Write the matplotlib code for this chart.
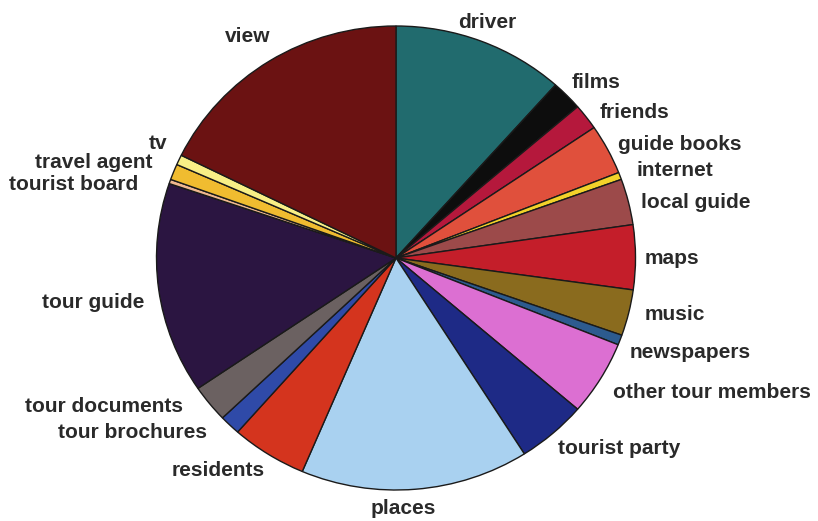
import matplotlib.pyplot as plt

# Share of mentions per information source (percent), clockwise from 12 o'clock
sources = [
    "driver", "films", "friends", "guide books", "internet", "local guide",
    "maps", "music", "newspapers", "other tour members", "tourist party",
    "places", "residents", "tour brochures", "tour documents", "tour guide",
    "tourist board", "travel agent", "tv", "view",
]
shares = [
    11.6, 2.1, 1.8, 3.5, 0.5, 3.2,
    4.5, 3.2, 0.7, 5.2, 4.7,
    15.4, 5.1, 1.4, 2.6, 14.7,
    0.3, 1.1, 0.7, 17.7,
]

COLORS = [
    "#216b6e", "#0d0d0d", "#b5183c", "#e0503c", "#f2d22a", "#9c4a4a",
    "#c41e2a", "#8a6b1e", "#2d5b8f", "#dc6fd2", "#1e2a86",
    "#a9d1f0", "#d4341e", "#2f4aa8", "#6b6161", "#2b1541",
    "#f0b890", "#f0bc30", "#f8ef86", "#6b1212",
]

# label centres in pixels (x from left, y from top)
LABEL_XY = [
    (487, 23), (596, 83), (634, 112), (680, 145), (675, 171), (696, 203),
    (672, 259), (675, 315), (690, 352), (712, 392), (619, 448),
    (403, 508), (218, 470), (133, 433), (104, 407), (93, 303),
    (74, 185), (94, 163), (158, 143), (248, 37),
]

W, H = 818, 521
CX, CY = 396, 258      # pie centre, pixels
RX, RY = 239.5, 232.0  # slightly squashed scan

fig = plt.figure(figsize=(W / 100, H / 100), dpi=100)
ax = fig.add_axes([0, 0, 1, 1])
ax.pie(
    shares,
    colors=COLORS,
    startangle=90,
    counterclock=False,
    radius=1.0,
    wedgeprops={"edgecolor": "#1a1a1a", "linewidth": 1.0},
)
ax.set_aspect("auto")
ax.set_xlim(-CX / RX, (W - CX) / RX)
ax.set_ylim(-(H - CY) / RY, CY / RY)
ax.axis("off")

for name, (px, py) in zip(sources, LABEL_XY):
    fig.text(
        px / W, 1 - py / H, name,
        ha="center", va="center",
        fontsize=15, fontweight="bold",
        family="Liberation Sans", color="#2a2a2a",
    )

fig.savefig("out.png", dpi=100, facecolor="white")
